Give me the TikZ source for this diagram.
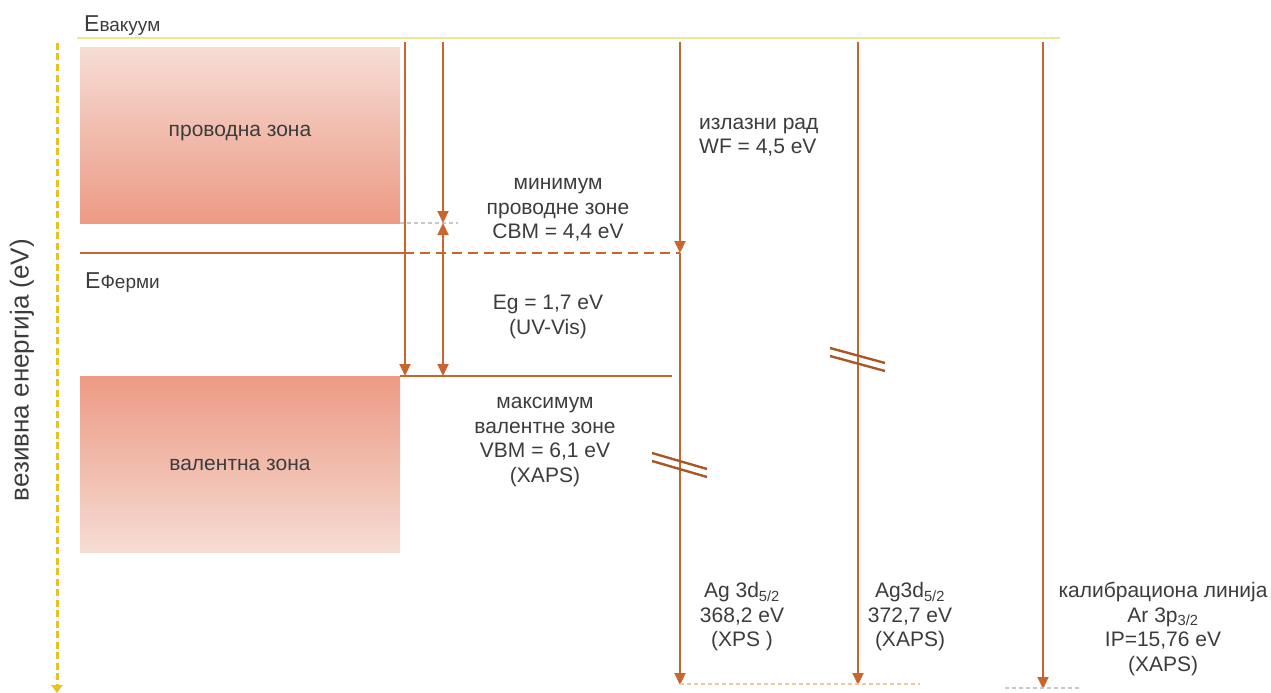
\documentclass[tikz,border=0pt]{standalone}
\usepackage{fontspec}
\setmainfont{Liberation Sans}
\usetikzlibrary{arrows.meta}
\definecolor{org}{HTML}{C8662E}
\definecolor{vac}{HTML}{EDE88A}
\definecolor{axisy}{HTML}{E8C21E}
\definecolor{txt}{HTML}{3C3C3C}
\definecolor{bandlight}{HTML}{F6DCD4}
\definecolor{banddark}{HTML}{EC9A84}
\definecolor{dotgray}{HTML}{C8C8C8}
\definecolor{dotorg}{HTML}{F0C8A0}
\tikzset{
  lbl/.style={font=\fontsize{21}{24.5}\selectfont, text=txt, align=center, inner sep=0pt},
  otip/.style={-{Triangle[width=11pt,length=12pt]}},
  oarrow/.style={draw=org, line width=2.2pt, otip},
  oline/.style={draw=org, line width=2.2pt},
  brk/.style={draw=org!85!black, line width=2.4pt},
  band/.style={draw=none},
}
\begin{document}
\begin{tikzpicture}[x=1pt,y=-1pt]
\useasboundingbox (0,0) rectangle (1271,693);
% bands
\node[band, minimum width=320pt, minimum height=176pt, inner sep=0pt, top color=bandlight, bottom color=banddark, anchor=north west] (cb) at (80,47) {};
\node[band, minimum width=320pt, minimum height=176pt, inner sep=0pt, top color=banddark, bottom color=bandlight, anchor=north west] (vb) at (80,376) {};
\node[lbl] (cbt) at (240,133) {проводна зона};
\node[lbl] (vbt) at (240,465) {валентна зона};
% vacuum level
\coordinate (v0) at (77,38);
\coordinate (v1) at (1060,38);
\draw[vac, line width=2.2pt] (v0) -- (v1);
\node[lbl, anchor=base west] (evac) at (84,32) {\fontsize{23}{24}\selectfont Е\fontsize{19}{24}\selectfont вакуум};
% binding energy axis
\coordinate (ax0) at (57,43);
\coordinate (ax1) at (57,693);
\draw[axisy, line width=3pt, dash pattern=on 7pt off 3.5pt, -{Triangle[width=11pt,length=8pt]}] (ax0) -- (ax1);
\node[lbl, rotate=90, font=\fontsize{26}{30}\selectfont] (axl) at (22,370) {везивна енергија (eV)};
% Fermi level
\coordinate (f0) at (80,253);
\coordinate (f1) at (404,253);
\coordinate (f2) at (680,253);
\draw[oline] (f0) -- (f1);
\draw[org, line width=2.2pt, dash pattern=on 10pt off 6pt] (f1) -- (f2);
\node[lbl, anchor=base west] (ef) at (85,288) {\fontsize{23}{24}\selectfont Е\fontsize{19}{24}\selectfont Ферми};
% CBM dotted
\coordinate (c0) at (400,223);
\coordinate (c1) at (458,223);
\draw[dotgray, line width=1.5pt, dash pattern=on 4pt off 3pt] (c0) -- (c1);
% VBM line
\coordinate (vb0) at (400,376);
\coordinate (vb1) at (672,376);
\draw[oline] (vb0) -- (vb1);
% arrows
\coordinate (a1t) at (405,42);
\coordinate (a1b) at (405,376);
\draw[oarrow] (a1t) -- (a1b);
\coordinate (a2t) at (443,42);
\coordinate (a2m) at (443,223);
\coordinate (a2b) at (443,376);
\draw[oarrow] (a2t) -- (a2m);
\draw[oarrow, {Triangle[width=11pt,length=12pt]}-{Triangle[width=11pt,length=12pt]}] (a2m) -- (a2b);
\coordinate (a3t) at (680,42);
\coordinate (a3m) at (680,253);
\coordinate (a3b) at (680,685);
\draw[oarrow] (a3t) -- (a3m);
\draw[oarrow] (a3m) -- (a3b);
\coordinate (a4t) at (858,42);
\coordinate (a4b) at (858,685);
\draw[oarrow] (a4t) -- (a4b);
\coordinate (a5t) at (1043,42);
\coordinate (a5b) at (1043,689);
\draw[oarrow] (a5t) -- (a5b);
% break marks
\draw[brk] (652,453) -- (707,469);
\draw[brk] (652,461) -- (707,477);
\draw[brk] (830,348) -- (885,363);
\draw[brk] (830,356) -- (885,371);
% bottom dotted lines
\coordinate (b0) at (680,684);
\coordinate (b1) at (920,684);
\draw[dotorg, line width=1.5pt, dash pattern=on 4pt off 3pt] (b0) -- (b1);
\coordinate (b2) at (1005,688);
\coordinate (b3) at (1080,688);
\draw[dotgray, line width=1.5pt, dash pattern=on 4pt off 3pt] (b2) -- (b3);
% labels
\node[lbl] (cbm) at (558,210) {минимум\\проводне зоне\\CBM = 4,4 eV};
\node[lbl] (eg) at (548,317) {Eg = 1,7 eV\\(UV-Vis)};
\node[lbl] (vbm) at (545,442) {максимум\\валентне зоне\\VBM = 6,1 eV\\(XAPS)};
\node[lbl, align=left, anchor=west] (wf) at (699,137) {излазни рад\\WF = 4,5 eV};
\node[lbl] (ag1) at (742,617) {Ag 3d\textsubscript{5/2}\\368,2 eV\\(XPS )};
\node[lbl] (ag2) at (910,617) {Ag3d\textsubscript{5/2}\\372,7 eV\\(XAPS)};
\node[lbl] (ar) at (1163,629) {калибрациона линија\\Ar 3p\textsubscript{3/2}\\IP=15,76 eV\\(XAPS)};
\end{tikzpicture}
\end{document}
